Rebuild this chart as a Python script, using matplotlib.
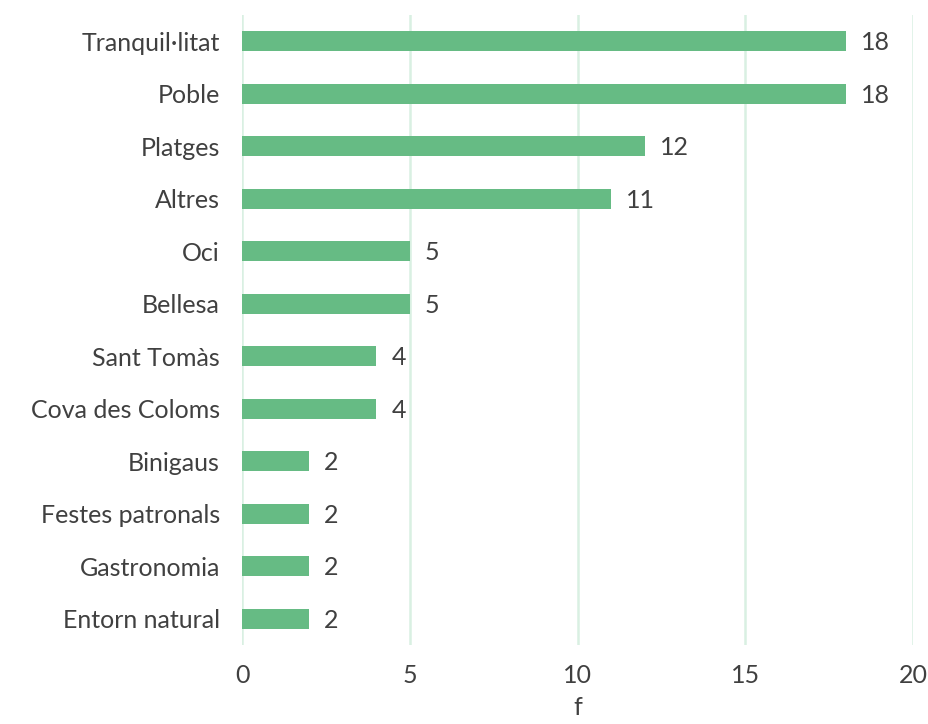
import matplotlib
matplotlib.use('Agg')
import matplotlib.pyplot as plt

categorias = ['Tranquil·litat', 'Poble', 'Platges', 'Altres', 'Oci', 'Bellesa',
              'Sant Tomàs', 'Cova des Coloms', 'Binigaus', 'Festes patronals',
              'Gastronomia', 'Entorn natural']
valores = [18, 18, 12, 11, 5, 5, 4, 4, 2, 2, 2, 2]
ticks_x = [0, 5, 10, 15, 20]

verde = '#66BB84'
grid = '#D9F0E2'
texto = '#404040'

plt.rcParams['font.family'] = ['Lato', 'DejaVu Sans']

fig = plt.figure(figsize=(9.29, 7.24), dpi=100)
ax = fig.add_axes([0.2605, 0.1091, 0.7223, 0.8702])

pos = list(range(len(categorias)))
ax.barh(pos, valores, height=0.38, color=verde, zorder=3)
for p, v in zip(pos, valores):
    ax.text(v + 0.45, p + 0.03, str(v), va='center', ha='left', fontsize=18, color=texto)

ax.set_ylim(len(categorias) - 0.5, -0.5)
ax.set_xlim(0, 20)
ax.set_xticks(ticks_x)
ax.set_yticks(pos)
ax.set_yticklabels(categorias)
ax.tick_params(axis='both', length=0, labelsize=18, labelcolor=texto)
ax.tick_params(axis='y', pad=16)
ax.tick_params(axis='x', pad=14)
ax.xaxis.grid(True, color=grid, linewidth=1.8, zorder=0)
for s in ax.spines.values():
    s.set_visible(False)
ax.set_xlabel('f', fontsize=18, color=texto, labelpad=6)

fig.savefig('out.png', dpi=100)
